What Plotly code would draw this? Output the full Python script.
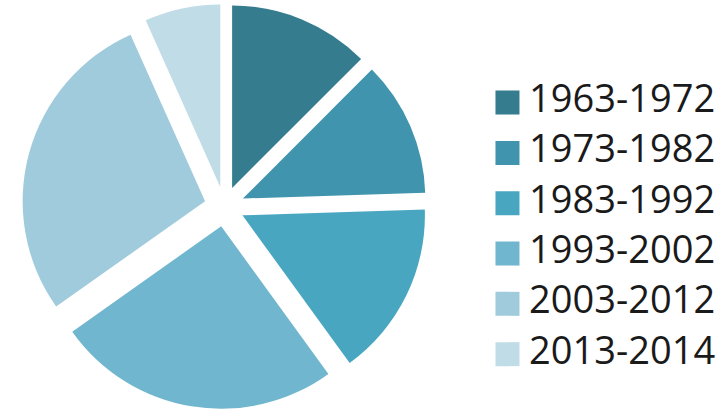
import plotly.graph_objects as go

# Share of records per decade (percent)
periods = ["1963-1972", "1973-1982", "1983-1992", "1993-2002", "2003-2012", "2013-2014"]
shares = [12.5, 12.0, 15.5, 25.2, 28.1, 6.7]
colors = ["#357c8f", "#4094ad", "#48a6c1", "#70b6ce", "#a0cbdc", "#c0dce6"]

fig = go.Figure()

# Exploded pie, clockwise from 12 o'clock
fig.add_trace(go.Pie(
    labels=periods,
    values=shares,
    sort=False,
    direction="clockwise",
    rotation=0,
    pull=[0.11] * len(periods),
    marker=dict(colors=colors, line=dict(width=0)),
    textinfo="none",
    hoverinfo="label+percent",
    showlegend=False,
    domain=dict(x=[0, 0.62], y=[0, 1]),
))

# Legend built as a column of square swatches followed by labels
rows = list(range(len(periods)))
fig.add_trace(go.Scatter(
    x=[0] * len(periods),
    y=rows,
    mode="markers",
    marker=dict(symbol="square", size=24, color=colors, line=dict(width=0)),
    hoverinfo="skip",
    showlegend=False,
    xaxis="x2",
    yaxis="y2",
))
fig.add_trace(go.Scatter(
    x=[1.0] * len(periods),
    y=rows,
    mode="text",
    text=periods,
    textposition="middle right",
    textfont=dict(family="Open Sans", size=38, color="#1a1a1a"),
    hoverinfo="skip",
    showlegend=False,
    xaxis="x2",
    yaxis="y2",
))

fig.update_layout(
    width=724,
    height=409,
    margin=dict(l=0, r=0, t=4, b=0),
    paper_bgcolor="white",
    plot_bgcolor="white",
    showlegend=False,
    xaxis2=dict(domain=[0.68, 1], range=[-0.7, 10], visible=False, fixedrange=True),
    yaxis2=dict(domain=[0, 1], range=[6.09, -1.96], visible=False, fixedrange=True),
)

fig.write_html("out.html")
